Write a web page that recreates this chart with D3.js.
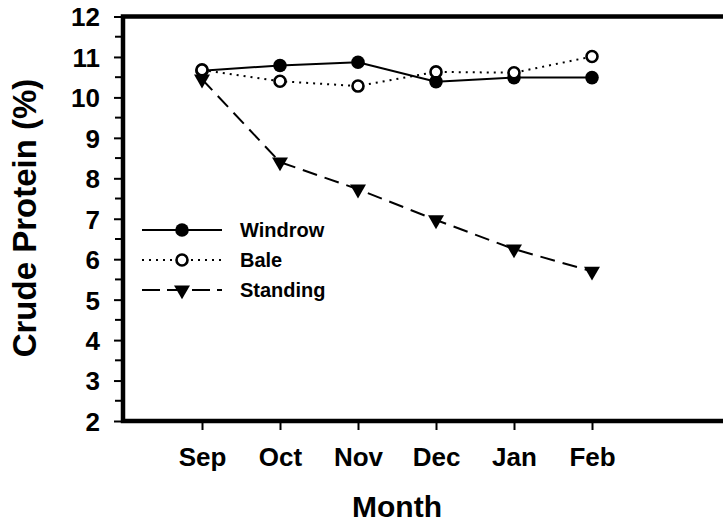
<!DOCTYPE html>
<html>
<head>
<meta charset="utf-8">
<script src="https://cdn.jsdelivr.net/npm/d3@7"></script>
<style>
  body { margin: 0; background: #fff; }
  svg { font-family: "Liberation Sans", Arial, sans-serif; font-weight: bold; }
</style>
</head>
<body>
<svg id="chart" width="723" height="523"></svg>
<script>
// data
const months = ["Sep", "Oct", "Nov", "Dec", "Jan", "Feb"];
const windrow = [10.66, 10.79, 10.87, 10.39, 10.49, 10.49];
const bale = [10.68, 10.40, 10.28, 10.63, 10.61, 11.01];
const standing = [10.45, 8.40, 7.73, 6.97, 6.25, 5.70];
const yTicks = [2, 3, 4, 5, 6, 7, 8, 9, 10, 11, 12];

const svg = d3.select("#chart");
const W = 723, H = 523;
const plotLeft = 123, plotTop = 16.5, plotBottom = 421;

const x = d3.scaleLinear().domain([0, 5]).range([202, 592]);
const y = d3.scaleLinear().domain([2, 12]).range([plotBottom, plotTop]);

// minor ticks on y
const minor = d3.range(2.5, 12, 1);
svg.append("g").selectAll("line").data(minor).join("line")
    .attr("x1", plotLeft - 8).attr("x2", plotLeft)
    .attr("y1", d => y(d)).attr("y2", d => y(d))
    .attr("stroke", "#000").attr("stroke-width", 2);

// y axis
const yAxis = svg.append("g")
    .attr("transform", `translate(${plotLeft},0)`)
    .call(d3.axisLeft(y).tickValues(yTicks).tickSize(9).tickPadding(14).tickFormat(d3.format("d")));
yAxis.select(".domain").remove();
yAxis.selectAll(".tick line").attr("stroke-width", 2);
yAxis.selectAll(".tick text").style("font-size", "26px").style("font-family", "inherit").attr("dy", "0.36em");

// x axis
const xAxis = svg.append("g")
    .attr("transform", `translate(0,${plotBottom})`)
    .call(d3.axisBottom(x).ticks(6).tickFormat(i => months[i]).tickSize(9).tickPadding(18));
xAxis.select(".domain").remove();
xAxis.selectAll(".tick line").attr("stroke-width", 2);
xAxis.selectAll(".tick text").style("font-size", "26px").style("font-family", "inherit");

// frame: left, top and bottom
svg.append("path")
    .attr("d", `M${W},${plotTop}H${plotLeft}V${plotBottom}H${W}`)
    .attr("fill", "none").attr("stroke", "#000").attr("stroke-width", 4.5);

// axis titles
svg.append("text")
    .attr("transform", `translate(36,218) rotate(-90)`)
    .attr("text-anchor", "middle")
    .style("font-size", "33px")
    .text("Crude Protein (%)");

svg.append("text")
    .attr("x", 397).attr("y", 517)
    .attr("text-anchor", "middle")
    .style("font-size", "30px")
    .text("Month");

const line = d3.line().x((_, i) => x(i)).y(d => y(d));
const tri = d3.symbol().type(d3.symbolTriangle).size(110);

const series = [
    {name: "Windrow", values: windrow, dash: null, marker: "filled"},
    {name: "Bale", values: bale, dash: "2,5", marker: "open"},
    {name: "Standing", values: standing, dash: "15,8", marker: "tri"}
];

function drawMarker(g, s, cx, cy) {
    if (s.marker === "filled") {
        g.append("circle").attr("cx", cx).attr("cy", cy).attr("r", 6.8).attr("fill", "#000");
    } else if (s.marker === "open") {
        g.append("circle").attr("cx", cx).attr("cy", cy).attr("r", 5.5)
            .attr("fill", "#fff").attr("stroke", "#000").attr("stroke-width", 2.6);
    } else {
        g.append("path").attr("d", tri)
            .attr("transform", `translate(${cx},${cy}) rotate(180)`).attr("fill", "#000");
    }
}

const plot = svg.append("g");
[series[2], series[0], series[1]].forEach(s => {
    plot.append("path")
        .datum(s.values)
        .attr("fill", "none")
        .attr("stroke", "#000")
        .attr("stroke-width", 2)
        .attr("stroke-dasharray", s.dash)
        .attr("d", line);
});
[series[2], series[0], series[1]].forEach(s => {
    s.values.forEach((v, i) => drawMarker(plot, s, x(i), y(v)));
});

// legend
const legend = svg.append("g");
series.forEach((s, i) => {
    const ly = 230 + i * 30;
    legend.append("line")
        .attr("x1", 142).attr("x2", 222).attr("y1", ly).attr("y2", ly)
        .attr("stroke", "#000").attr("stroke-width", 2)
        .attr("stroke-dasharray", s.name === "Standing" ? "18,7" : s.dash);
    drawMarker(legend, s, 182, ly);
    legend.append("text")
        .attr("x", 240).attr("y", ly).attr("dy", "0.36em")
        .style("font-size", "20px")
        .text(s.name);
});
</script>
</body>
</html>
